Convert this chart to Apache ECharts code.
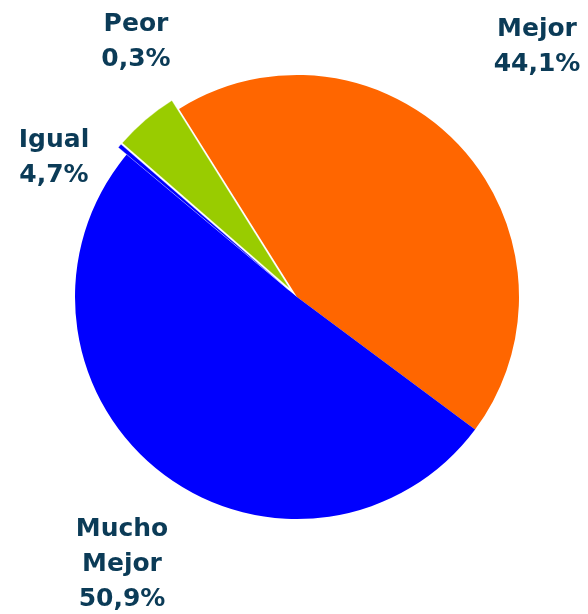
<!DOCTYPE html>
<html>
<head>
<meta charset="utf-8">
<script src="https://cdn.jsdelivr.net/npm/echarts@6/dist/echarts.min.js"></script>
<style>
html,body{margin:0;padding:0;background:#fff;}
#chart{width:588px;height:614px;}
</style>
</head>
<body>
<div id="chart"></div>
<script>
const categories = ['Mejor', 'Mucho Mejor', 'Peor', 'Igual'];
const values = [44.1, 50.9, 0.3, 4.7];
const colors = ['#FF6600', '#0000FF', '#0000FF', '#99CC00'];
const exploded = [false, false, true, true];

// fixed label anchor positions (px) for each category, in order
const labelPos = [[537, 47], [122, 564], [136, 42], [54, 158]];

const chart = echarts.init(document.getElementById('chart'), null, {renderer: 'canvas'});

const sliceData = categories.map((c, i) => ({
  name: c,
  value: values[i],
  selected: exploded[i],
  itemStyle: {color: colors[i]},
  select: {itemStyle: {color: colors[i], borderColor: '#fff', borderWidth: 0.3}}
}));

const labelData = categories.map((c, i) => ({
  name: c,
  value: values[i],
  itemStyle: {color: 'rgba(0,0,0,0)'}
}));

const common = {
  type: 'pie',
  center: [297, 297],
  radius: 222,
  startAngle: 122.1,
  clockwise: true,
  avoidLabelOverlap: false,
  emphasis: {disabled: true}
};

chart.setOption({
  animation: false,
  backgroundColor: '#fff',
  series: [
    Object.assign({}, common, {
      selectedMode: 'multiple',
      selectedOffset: 11,
      data: sliceData,
      label: {show: false},
      labelLine: {show: false}
    }),
    Object.assign({}, common, {
      silent: true,
      z: 3,
      data: labelData,
      label: {
        show: true,
        position: 'outside',
        color: '#0B3B57',
        fontFamily: 'DejaVu Sans',
        fontWeight: 'bold',
        fontSize: 25,
        lineHeight: 35,
        align: 'center',
        formatter: function (p) {
          return p.name.replace(' ', '\n') + '\n' + p.value.toFixed(1).replace('.', ',') + '%';
        }
      },
      labelLine: {show: false},
      labelLayout: function (p) {
        const pos = labelPos[p.dataIndex];
        return {x: pos[0], y: pos[1], align: 'center', verticalAlign: 'middle', hideOverlap: false};
      }
    })
  ]
});
</script>
</body>
</html>
